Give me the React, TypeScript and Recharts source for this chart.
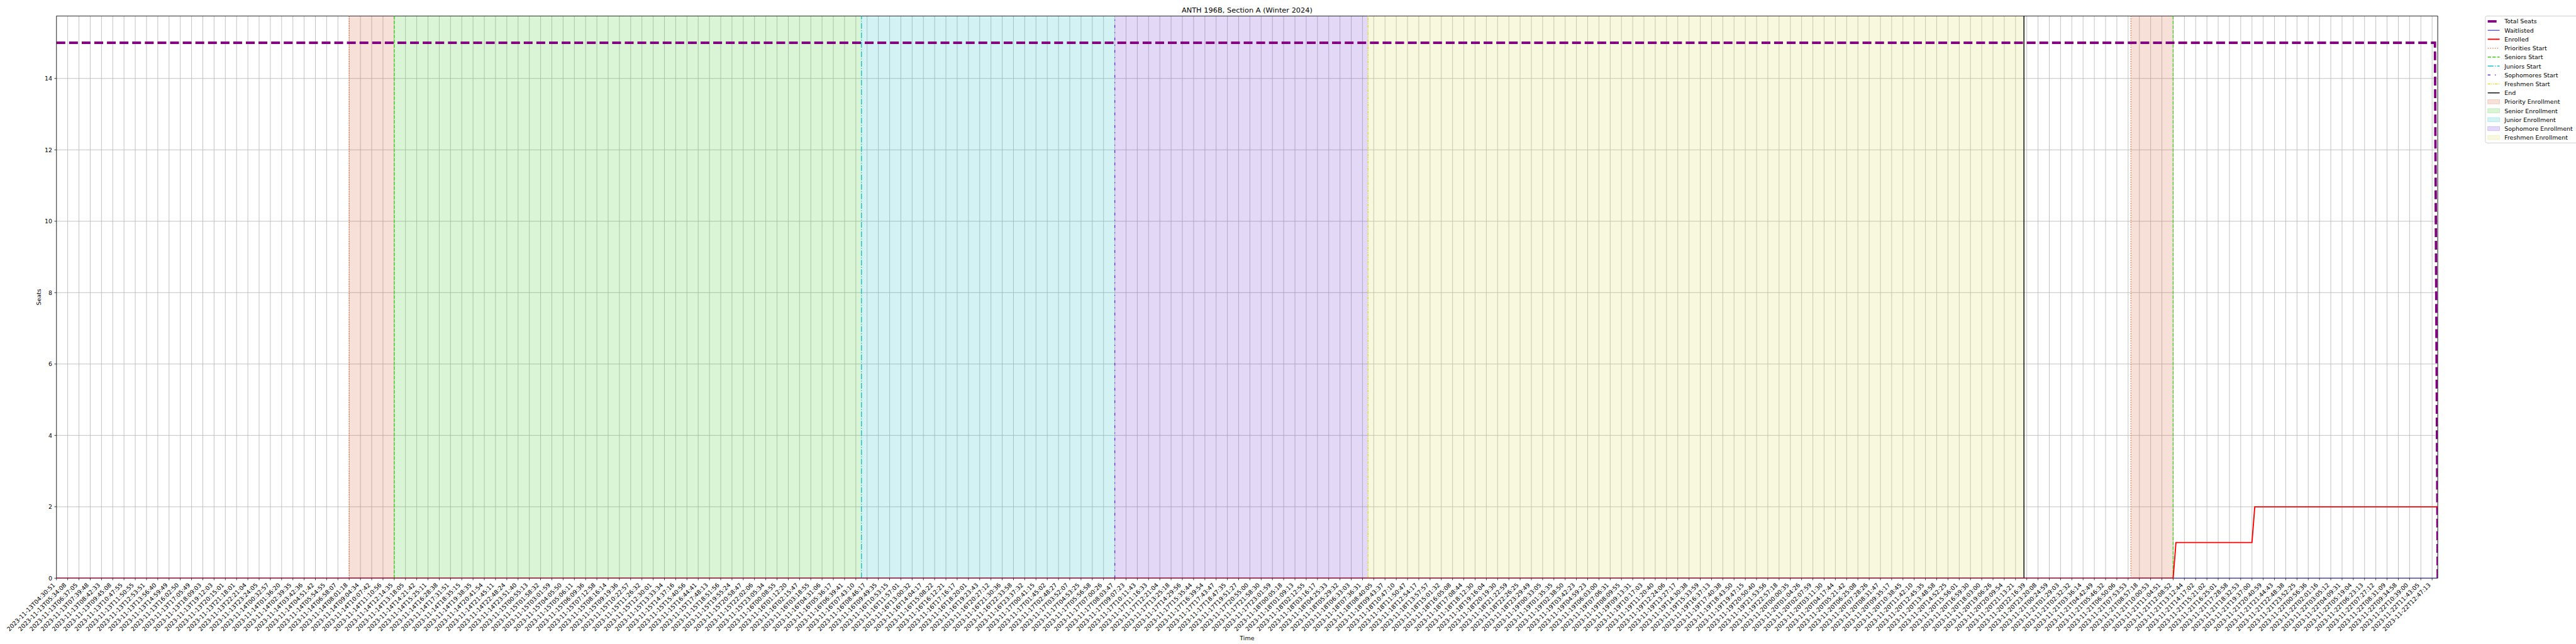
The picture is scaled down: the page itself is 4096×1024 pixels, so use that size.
import React from 'react';
import { LineChart, Line, XAxis, YAxis, CartesianGrid, ReferenceArea, ReferenceLine } from 'recharts';

// ---------- data ----------
const nov13 = ['04:30:51','05:34:08','06:37:05','07:39:48','08:42:33','09:45:08','10:47:55','11:50:55','12:53:51','13:56:40','14:59:49','16:02:50','17:05:49','18:09:03','19:12:03','20:15:01','21:18:01','22:21:04','23:24:05'];
const nov14 = ['00:32:57','01:36:20','02:39:35','03:42:36','04:51:42','05:54:55','06:58:07','08:01:18','09:04:34','10:07:42','11:10:56','12:14:35','13:18:05','14:21:42','15:25:11','16:28:38','17:31:51','18:35:15','19:38:35','20:41:54','21:45:11','22:48:24','23:51:40'];
const nov15 = ['00:55:13','01:58:32','03:01:59','04:05:50','05:06:11','06:09:36','07:12:58','08:16:14','09:19:36','10:22:57','11:26:32','12:30:01','13:33:34','14:37:16','15:40:56','16:44:41','17:48:13','18:51:56','19:55:24','20:58:47','22:02:06','23:05:34'];
const nov16 = ['00:08:55','01:12:20','02:15:47','03:18:55','04:31:06','05:36:17','06:39:41','07:43:10','08:46:17','09:49:35','10:53:15','11:57:01','13:00:32','14:04:17','15:08:22','16:12:21','17:16:17','18:20:01','19:23:43','20:27:12','21:30:36','22:33:58','23:37:32'];
const nov17 = ['00:41:15','01:45:02','02:48:27','03:52:07','04:53:25','05:56:58','07:00:26','08:03:47','09:07:23','10:11:43','11:16:33','12:21:04','13:25:18','14:29:56','15:35:44','16:39:54','17:43:47','18:47:35','19:51:27','20:55:00','21:58:30','23:01:59'];
const nov18 = ['00:05:18','01:09:13','02:12:55','03:16:17','04:25:33','05:29:32','06:33:03','07:36:31','08:40:05','09:43:37','10:47:10','11:50:47','12:54:17','13:57:57','15:01:32','16:05:08','17:08:44','18:12:30','19:16:04','20:19:30','21:22:59','22:26:25','23:29:49'];
const nov19 = ['00:33:05','01:35:35','02:38:50','03:42:23','04:59:23','06:03:00','07:06:31','08:09:55','09:13:31','10:17:03','11:20:40','12:24:06','13:27:17','14:30:38','15:33:59','16:37:13','17:40:38','18:43:50','19:47:15','20:50:40','21:53:56','22:57:18'];
const nov20 = ['00:00:35','01:04:26','02:07:59','03:11:30','04:17:44','05:21:42','06:25:08','07:28:26','08:31:47','09:35:17','10:38:45','11:42:10','12:45:35','13:48:58','14:52:25','15:56:01','16:59:30','18:03:00','19:06:26','20:09:54','21:13:21','22:16:39','23:20:08'];
const nov21 = ['00:24:59','01:29:03','02:32:32','03:36:14','04:42:49','05:46:32','06:50:06','07:53:53','08:57:18','10:00:53','11:04:51','12:08:52','13:12:44','14:17:02','15:21:02','16:25:01','17:28:58','18:32:53','19:37:00','20:40:59','21:44:43','22:48:38','23:52:25'];
const nov22 = ['00:56:36','02:01:16','03:05:12','04:09:31','05:19:04','06:23:13','07:27:12','08:31:09','09:34:58','10:39:00','11:43:05','12:47:13'];

const tickLabels: string[] = [
  ...nov13.map((t) => `2023-11-13T${t}`),
  ...nov14.map((t) => `2023-11-14T${t}`),
  ...nov15.map((t) => `2023-11-15T${t}`),
  ...nov16.map((t) => `2023-11-16T${t}`),
  ...nov17.map((t) => `2023-11-17T${t}`),
  ...nov18.map((t) => `2023-11-18T${t}`),
  ...nov19.map((t) => `2023-11-19T${t}`),
  ...nov20.map((t) => `2023-11-20T${t}`),
  ...nov21.map((t) => `2023-11-21T${t}`),
  ...nov22.map((t) => `2023-11-22T${t}`),
];
const tickPositions = tickLabels.map((_, i) => i);
const xEnd = 211.5;

// series (position in tick units, value in seats)
const totalSeatsPos = [0, 211.25, 211.5];
const totalSeatsVal = [15, 15, 0];
const waitlistedPos = [0, 211.5];
const waitlistedVal = [0, 0];
const enrolledPos = [0, 188, 188.25, 195, 195.25, 211.5];
const enrolledVal = [0, 0, 1, 1, 2, 2];

const yTicks = [0, 2, 4, 6, 8, 10, 12, 14];
const yMax = 15.75;

// enrollment phases
const phaseKinds = ['priority', 'senior', 'junior', 'sophomore', 'freshmen', 'priority'];
const phaseStarts = [26, 30, 71.5, 94, 116.5, 184.25];
const phaseEnds = [30, 71.5, 94, 116.5, 174.75, 188];

// start / end markers
const markerKinds = ['priority', 'senior', 'junior', 'sophomore', 'freshmen', 'end', 'priority', 'senior'];
const markerPos = [26, 30, 71.5, 94, 116.5, 174.75, 184.25, 188];

// ---------- styles ----------
const S = 0.682;
const W = 4096;
const H = 1024;
const FONT = 'DejaVu Sans';
const FS = 13.89 * S;

const plotLeft = 131.6 * S;
const plotRight = 5683.5 * S;
const plotTop = 37.3 * S;
const plotBottom = 1348 * S;

const markerColor: Record<string, string> = {
  priority: '#e8703a',
  senior: '#44cc22',
  junior: '#17c3cc',
  sophomore: '#6a2fd0',
  freshmen: '#dede3a',
  end: '#000000',
};
const shadeColor: Record<string, string> = {
  priority: '#d8653a',
  senior: '#48c832',
  junior: '#22c0c6',
  sophomore: '#7442d8',
  freshmen: '#dcdc5a',
};
const lw = 1.5 * 1.389 * S; // 1.5pt
const markerDash: Record<string, string> = {
  priority: `${1 * lw} ${1.65 * lw}`,
  senior: `${3.7 * lw} ${1.6 * lw}`,
  junior: `${6.4 * lw} ${1.6 * lw} ${1 * lw} ${1.6 * lw}`,
  sophomore: `${3 * lw} ${5 * lw} ${1 * lw} ${5 * lw}`,
  freshmen: `${3 * lw} ${1 * lw} ${1 * lw} ${1 * lw} ${1 * lw} ${1 * lw}`,
  end: '',
};

const totalW = 4 * 1.389 * S;
const totalDash = `${3.7 * totalW} ${1.6 * totalW}`;
const enrolledW = 2 * 1.389 * S;
const waitW = 1 * 1.389 * S;

type LegendItem = { label: string; kind: 'line' | 'patch'; color: string; width?: number; dash?: string };
const legendItems: LegendItem[] = [
  { label: 'Total Seats', kind: 'line', color: '#800080', width: totalW, dash: totalDash },
  { label: 'Waitlisted', kind: 'line', color: '#0000ff', width: waitW },
  { label: 'Enrolled', kind: 'line', color: '#ff0000', width: enrolledW },
  { label: 'Priorities Start', kind: 'line', color: markerColor.priority, width: lw, dash: markerDash.priority },
  { label: 'Seniors Start', kind: 'line', color: markerColor.senior, width: lw, dash: markerDash.senior },
  { label: 'Juniors Start', kind: 'line', color: markerColor.junior, width: lw, dash: markerDash.junior },
  { label: 'Sophomores Start', kind: 'line', color: markerColor.sophomore, width: lw, dash: markerDash.sophomore },
  { label: 'Freshmen Start', kind: 'line', color: markerColor.freshmen, width: lw, dash: markerDash.freshmen },
  { label: 'End', kind: 'line', color: markerColor.end, width: lw },
  { label: 'Priority Enrollment', kind: 'patch', color: shadeColor.priority },
  { label: 'Senior Enrollment', kind: 'patch', color: shadeColor.senior },
  { label: 'Junior Enrollment', kind: 'patch', color: shadeColor.junior },
  { label: 'Sophomore Enrollment', kind: 'patch', color: shadeColor.sophomore },
  { label: 'Freshmen Enrollment', kind: 'patch', color: shadeColor.freshmen },
];

const toPoints = (pos: number[], val: number[]) => pos.map((x, i) => ({ x, y: val[i] }));

const XTick = (props: any) => {
  const { x, y, payload } = props;
  const label = tickLabels[payload.value] ?? '';
  return (
    <text
      transform={`translate(${x - 1.6},${y + 8.4}) rotate(-45)`}
      textAnchor="end"
      fontSize={FS}
      fontFamily={FONT}
      fill="#000"
    >
      {label}
    </text>
  );
};

const Legend = () => {
  const left = 5794.5 * S;
  const top = plotTop;
  const pad = 5.56 * S;
  const rowH = 20.84 * S;
  const handleW = 27.8 * S;
  const textGap = 11.1 * S;
  const boxH = pad * 2 + legendItems.length * 13.9 * S + (legendItems.length - 1) * 6.94 * S;
  return (
    <g>
      <rect x={left} y={top} width={300} height={boxH} rx={2.5} ry={2.5} fill="#ffffff" fillOpacity={0.8} stroke="#cccccc" strokeWidth={0.95} />
      {legendItems.map((it, i) => {
        const cy = top + pad + 6.95 * S + i * rowH;
        const hx = left + pad;
        return (
          <g key={i}>
            {it.kind === 'line' ? (
              <line x1={hx} x2={hx + handleW} y1={cy} y2={cy} stroke={it.color} strokeWidth={it.width} strokeDasharray={it.dash || undefined} />
            ) : (
              <rect x={hx} y={cy - 4.9 * S} width={handleW} height={9.7 * S} fill={it.color} fillOpacity={0.2} stroke={it.color} strokeOpacity={0.25} strokeWidth={0.95} />
            )}
            <text x={hx + handleW + textGap} y={cy} dominantBaseline="central" fontSize={FS} fontFamily={FONT} fill="#000">
              {it.label}
            </text>
          </g>
        );
      })}
    </g>
  );
};

export default function App() {
  return (
    <div style={{ position: 'absolute', left: 0, top: 0, width: W, height: H, background: '#fff' }}>
      <LineChart
        width={W}
        height={H}
        margin={{ top: plotTop, right: W - plotRight, left: 0, bottom: 0 }}
        style={{ position: 'absolute', left: 0, top: 0 }}
      >
        <CartesianGrid stroke="#b0b0b0" strokeWidth={0.8 * 1.389 * S} />
        {phaseStarts.map((s, i) => (
          <ReferenceArea
            key={`pa${i}`}
            x1={s}
            x2={phaseEnds[i]}
            y1={0}
            y2={yMax}
            fill={shadeColor[phaseKinds[i]]}
            fillOpacity={0.2}
            stroke="none"
            isFront={false}
          />
        ))}
        <XAxis
          type="number"
          dataKey="x"
          domain={[0, xEnd]}
          allowDataOverflow
          ticks={tickPositions}
          interval={0}
          tick={<XTick />}
          tickSize={4.86 * S}
          tickMargin={0}
          height={H - plotBottom}
          stroke="#000"
          tickLine={{ stroke: '#000', strokeWidth: 0.8 * 1.389 * S }}
          axisLine={false}
        />
        <YAxis
          type="number"
          domain={[0, yMax]}
          allowDataOverflow
          ticks={yTicks}
          interval={0}
          width={plotLeft}
          tickSize={4.86 * S}
          tickMargin={4.86 * S}
          tick={{ fontSize: FS, fontFamily: FONT, fill: '#000' }}
          tickLine={{ stroke: '#000', strokeWidth: 0.8 * 1.389 * S }}
          axisLine={false}
        />
        {markerPos.map((p, i) => (
          <ReferenceLine
            key={`m${i}`}
            x={p}
            stroke={markerColor[markerKinds[i]]}
            strokeWidth={lw}
            strokeDasharray={markerDash[markerKinds[i]] || undefined}
          />
        ))}
        <Line
          data={toPoints(totalSeatsPos, totalSeatsVal)}
          dataKey="y"
          type="linear"
          stroke="#800080"
          strokeWidth={totalW}
          strokeDasharray={totalDash}
          dot={false}
          activeDot={false}
          isAnimationActive={false}
        />
        <Line
          data={toPoints(waitlistedPos, waitlistedVal)}
          dataKey="y"
          type="linear"
          stroke="#0000ff"
          strokeWidth={waitW}
          dot={false}
          activeDot={false}
          isAnimationActive={false}
        />
        <Line
          data={toPoints(enrolledPos, enrolledVal)}
          dataKey="y"
          type="linear"
          stroke="#ff0000"
          strokeWidth={enrolledW}
          dot={false}
          activeDot={false}
          isAnimationActive={false}
        />
        <ReferenceArea x1={0} x2={xEnd} y1={0} y2={yMax} fill="none" fillOpacity={0} stroke="#000" strokeWidth={0.8 * 1.389 * S} />
      </LineChart>
      <svg width={W} height={H} style={{ position: 'absolute', left: 0, top: 0, pointerEvents: 'none' }}>
        <text x={(plotLeft + plotRight) / 2} y={plotTop - 8.33 * S} textAnchor="middle" fontSize={16.67 * S} fontFamily={FONT} fill="#000">
          ANTH 196B, Section A (Winter 2024)
        </text>
        <text transform={`translate(${95.3 * S},${(plotTop + plotBottom) / 2}) rotate(-90)`} textAnchor="middle" fontSize={FS} fontFamily={FONT} fill="#000">
          Seats
        </text>
        <text x={(plotLeft + plotRight) / 2} y={1487 * S} textAnchor="middle" dominantBaseline="central" fontSize={FS} fontFamily={FONT} fill="#000">
          Time
        </text>
        <Legend />
      </svg>
    </div>
  );
}
